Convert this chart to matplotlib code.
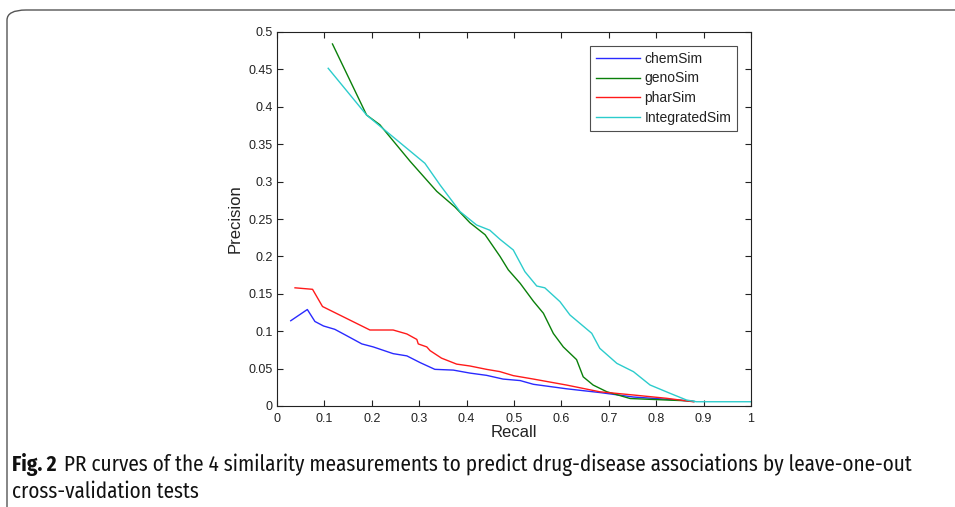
import matplotlib
matplotlib.use("Agg")
import matplotlib.pyplot as plt
from matplotlib.patches import FancyBboxPatch

chem_recall = [0.029, 0.064, 0.08, 0.098, 0.122, 0.147, 0.179, 0.203, 0.245, 0.274, 0.302, 0.333,
               0.372, 0.407, 0.442, 0.477, 0.513, 0.541, 0.611, 0.681, 0.752, 0.822, 0.864, 0.88]
chem_prec = [0.114, 0.129, 0.113, 0.107, 0.1025, 0.094, 0.083, 0.079, 0.070, 0.067, 0.058, 0.049,
             0.048, 0.044, 0.041, 0.036, 0.034, 0.029, 0.023, 0.018, 0.012, 0.009, 0.007, 0.006]

geno_recall = [0.117, 0.189, 0.217, 0.281, 0.337, 0.3755, 0.407, 0.439, 0.4705, 0.488, 0.513, 0.541,
               0.562, 0.583, 0.604, 0.632, 0.646, 0.667, 0.696, 0.745, 0.822, 0.864, 0.88]
geno_prec = [0.484, 0.389, 0.376, 0.327, 0.287, 0.266, 0.245, 0.229, 0.200, 0.182, 0.164, 0.140,
             0.124, 0.097, 0.079, 0.062, 0.039, 0.028, 0.019, 0.010, 0.008, 0.007, 0.006]

phar_recall = [0.038, 0.075, 0.096, 0.196, 0.245, 0.274, 0.295, 0.298, 0.316, 0.323, 0.347, 0.379,
               0.407, 0.442, 0.47, 0.4985, 0.541, 0.611, 0.681, 0.752, 0.822, 0.878]
phar_prec = [0.158, 0.156, 0.133, 0.1016, 0.1016, 0.0963, 0.089, 0.083, 0.079, 0.074, 0.064, 0.056,
             0.0535, 0.049, 0.046, 0.0406, 0.036, 0.028, 0.019, 0.0147, 0.0103, 0.0057]

integ_recall = [0.108, 0.189, 0.312, 0.344, 0.386, 0.421, 0.449, 0.4705, 0.4985, 0.523, 0.548, 0.565,
                0.597, 0.618, 0.664, 0.681, 0.717, 0.752, 0.787, 0.829, 0.864, 0.885, 1.0]
integ_prec = [0.4515, 0.389, 0.3245, 0.2955, 0.26, 0.242, 0.235, 0.2228, 0.2086, 0.1796, 0.1604, 0.158,
              0.1395, 0.1217, 0.0972, 0.0771, 0.057, 0.0459, 0.0281, 0.017, 0.008, 0.0057, 0.0057]

series_names = ["chemSim", "genoSim", "pharSim", "IntegratedSim"]
x_ticks = [0, 0.1, 0.2, 0.3, 0.4, 0.5, 0.6, 0.7, 0.8, 0.9, 1]
x_tick_labels = ["0", "0.1", "0.2", "0.3", "0.4", "0.5", "0.6", "0.7", "0.8", "0.9", "1"]
y_ticks = [0, 0.05, 0.1, 0.15, 0.2, 0.25, 0.3, 0.35, 0.4, 0.45, 0.5]
y_tick_labels = ["0", "0.05", "0.1", "0.15", "0.2", "0.25", "0.3", "0.35", "0.4", "0.45", "0.5"]

caption_bold = "Fig. 2"
caption_line1 = "PR curves of the 4 similarity measurements to predict drug-disease associations by leave-one-out"
caption_line2 = "cross-validation tests"

plt.rcParams['font.family'] = ['Liberation Sans', 'DejaVu Sans']

W, H = 955, 507
fig = plt.figure(figsize=(W / 100, H / 100), dpi=100)
fig.patch.set_facecolor("white")

# rounded border
box = FancyBboxPatch((7 / W, -0.2), 1.2, 1 - 10 / H + 0.2,
                     boxstyle="round,pad=0,rounding_size=0.02",
                     transform=fig.transFigure, facecolor="none",
                     edgecolor="#555555", linewidth=1.0, clip_on=False)
fig.patches.append(box)

ax = fig.add_axes([277 / W, 1 - 406 / H, (751 - 277) / W, (406 - 32) / H])
colors = ["#2a2aff", "#0a800a", "#ff1a1a", "#2ccccc"]
ax.plot(chem_recall, chem_prec, color=colors[0], lw=1.0, label=series_names[0])
ax.plot(geno_recall, geno_prec, color=colors[1], lw=1.0, label=series_names[1])
ax.plot(phar_recall, phar_prec, color=colors[2], lw=1.0, label=series_names[2])
ax.plot(integ_recall, integ_prec, color=colors[3], lw=1.0, label=series_names[3])

ax.set_xlim(0, 1)
ax.set_ylim(0, 0.5)
ax.set_xticks(x_ticks)
ax.set_xticklabels(x_tick_labels)
ax.set_yticks(y_ticks)
ax.set_yticklabels(y_tick_labels)
ax.tick_params(direction="in", length=4, width=0.8, labelsize=9, top=True, right=True,
               colors="#222222", pad=3)
ax.tick_params(axis="x", pad=5)
for s in ax.spines.values():
    s.set_linewidth(0.8)
    s.set_color("#222222")
ax.set_xlabel("Recall", fontsize=12, labelpad=0, color="#222222")
ax.set_ylabel("Precision", fontsize=12, labelpad=4, color="#222222")

leg = ax.legend(loc="upper right", bbox_to_anchor=(0.970, 0.9626), fontsize=10,
                frameon=True, fancybox=False, edgecolor="#222222", handlelength=3.2,
                handletextpad=0.3, borderpad=0.4, labelspacing=0.42, borderaxespad=0)
leg.get_frame().set_linewidth(0.8)
for t in leg.get_texts():
    t.set_color("#222222")

cap_font = ['Fira Sans Condensed', 'Roboto Condensed', 'Open Sans', 'DejaVu Sans']
size = 14
t1 = fig.text(12 / W, 1 - 465 / H, caption_bold, fontsize=size, fontweight="bold",
              family=cap_font, va="center", ha="left", color="#111111")
t2 = fig.text(0, 1 - 465 / H, caption_line1, fontsize=size, family=cap_font, fontweight="normal",
              va="center", ha="left", color="#111111")
t3 = fig.text(12 / W, 1 - 492 / H, caption_line2, fontsize=size, family=cap_font, fontweight="normal",
              va="center", ha="left", color="#111111")
renderer = fig.canvas.get_renderer()
# fit caption width to the reference line length (ends near x=912 px)
for _ in range(3):
    b1 = t1.get_window_extent(renderer)
    t2.set_x((b1.x1 + 7) / W)
    b2 = t2.get_window_extent(renderer)
    scale = (912 - 12) / (b2.x1 - 12)
    size = size * scale
    for t in (t1, t2, t3):
        t.set_fontsize(size)
b1 = t1.get_window_extent(renderer)
t2.set_x((b1.x1 + 7) / W)

fig.savefig("out.png", dpi=100)
